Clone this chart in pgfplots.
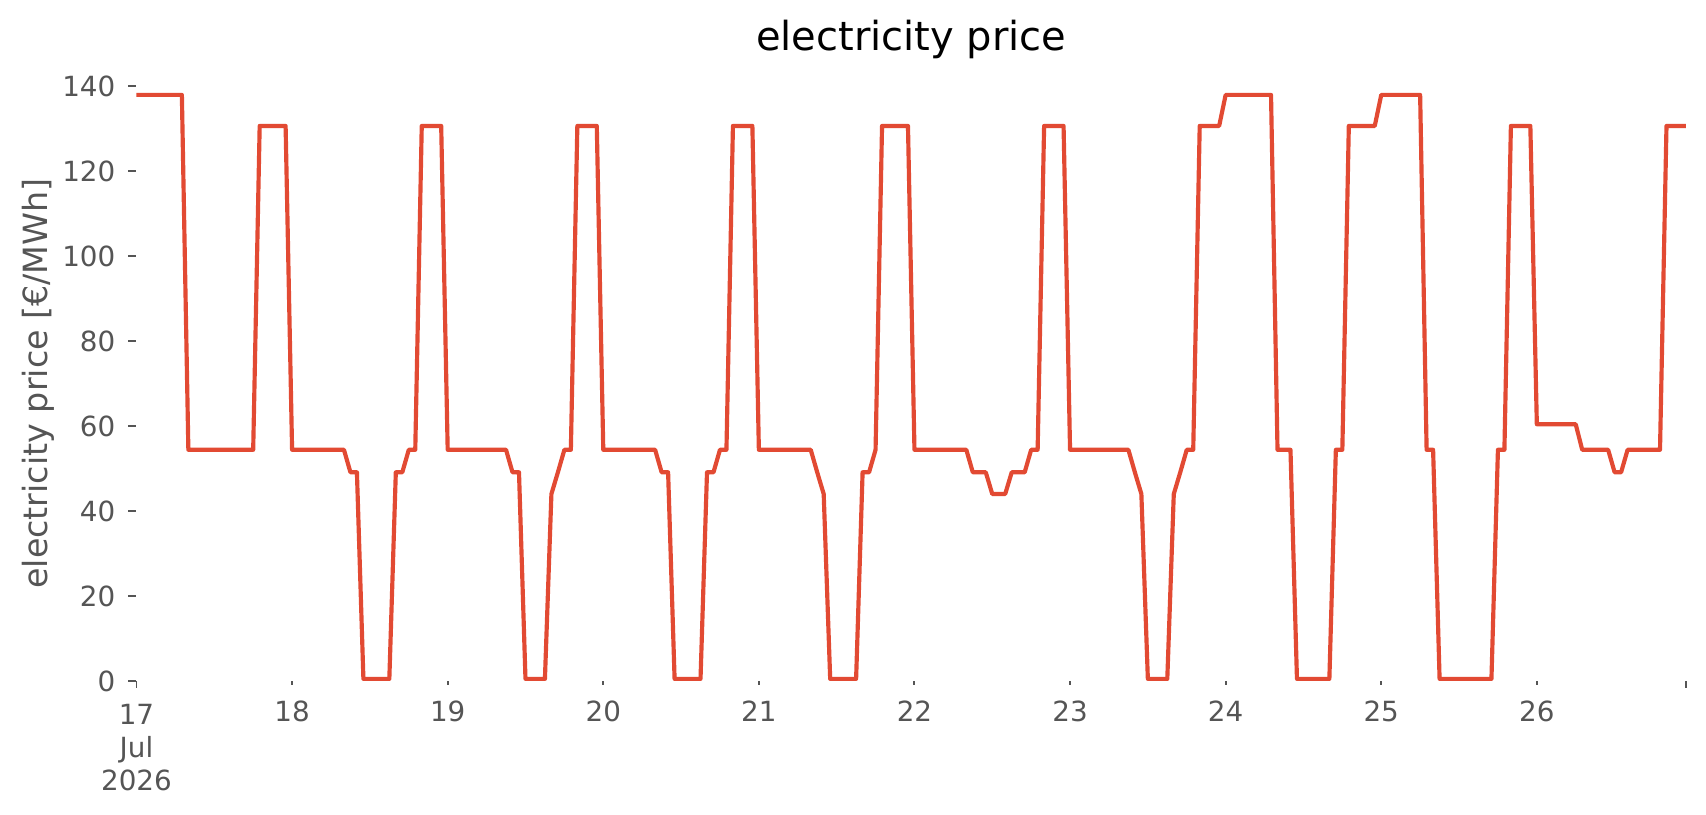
\documentclass[border=0pt]{standalone}
\usepackage{fontspec}
\setmainfont{DejaVu Sans}
\usepackage{pgfplots}
\usepackage{pgfplotstable}
\pgfplotsset{compat=1.18}
\definecolor{linecol}{HTML}{E24A33}
\definecolor{txtgray}{HTML}{555555}

\pgfplotstableread{
h p
0 137.9
1 137.9
2 137.9
3 137.9
4 137.9
5 137.9
6 137.9
7 137.9
8 54.4
9 54.4
10 54.4
11 54.4
12 54.4
13 54.4
14 54.4
15 54.4
16 54.4
17 54.4
18 54.4
19 130.6
20 130.6
21 130.6
22 130.6
23 130.6
24 54.4
25 54.4
26 54.4
27 54.4
28 54.4
29 54.4
30 54.4
31 54.4
32 54.4
33 49.1
34 49.1
35 0.5
36 0.5
37 0.5
38 0.5
39 0.5
40 49.1
41 49.1
42 54.4
43 54.4
44 130.6
45 130.6
46 130.6
47 130.6
48 54.4
49 54.4
50 54.4
51 54.4
52 54.4
53 54.4
54 54.4
55 54.4
56 54.4
57 54.4
58 49.1
59 49.1
60 0.5
61 0.5
62 0.5
63 0.5
64 44.0
65 49.1
66 54.4
67 54.4
68 130.6
69 130.6
70 130.6
71 130.6
72 54.4
73 54.4
74 54.4
75 54.4
76 54.4
77 54.4
78 54.4
79 54.4
80 54.4
81 49.1
82 49.1
83 0.5
84 0.5
85 0.5
86 0.5
87 0.5
88 49.1
89 49.1
90 54.4
91 54.4
92 130.6
93 130.6
94 130.6
95 130.6
96 54.4
97 54.4
98 54.4
99 54.4
100 54.4
101 54.4
102 54.4
103 54.4
104 54.4
105 49.1
106 44.0
107 0.5
108 0.5
109 0.5
110 0.5
111 0.5
112 49.1
113 49.1
114 54.4
115 130.6
116 130.6
117 130.6
118 130.6
119 130.6
120 54.4
121 54.4
122 54.4
123 54.4
124 54.4
125 54.4
126 54.4
127 54.4
128 54.4
129 49.1
130 49.1
131 49.1
132 44.0
133 44.0
134 44.0
135 49.1
136 49.1
137 49.1
138 54.4
139 54.4
140 130.6
141 130.6
142 130.6
143 130.6
144 54.4
145 54.4
146 54.4
147 54.4
148 54.4
149 54.4
150 54.4
151 54.4
152 54.4
153 54.4
154 49.1
155 44.0
156 0.5
157 0.5
158 0.5
159 0.5
160 44.0
161 49.1
162 54.4
163 54.4
164 130.6
165 130.6
166 130.6
167 130.6
168 137.9
169 137.9
170 137.9
171 137.9
172 137.9
173 137.9
174 137.9
175 137.9
176 54.4
177 54.4
178 54.4
179 0.5
180 0.5
181 0.5
182 0.5
183 0.5
184 0.5
185 54.4
186 54.4
187 130.6
188 130.6
189 130.6
190 130.6
191 130.6
192 137.9
193 137.9
194 137.9
195 137.9
196 137.9
197 137.9
198 137.9
199 54.4
200 54.4
201 0.5
202 0.5
203 0.5
204 0.5
205 0.5
206 0.5
207 0.5
208 0.5
209 0.5
210 54.4
211 54.4
212 130.6
213 130.6
214 130.6
215 130.6
216 60.4
217 60.4
218 60.4
219 60.4
220 60.4
221 60.4
222 60.4
223 54.4
224 54.4
225 54.4
226 54.4
227 54.4
228 49.1
229 49.1
230 54.4
231 54.4
232 54.4
233 54.4
234 54.4
235 54.4
236 130.6
237 130.6
238 130.6
239 130.6
}\price

\begin{document}
\begin{tikzpicture}
\useasboundingbox (-49.14pt,-48.24pt) rectangle (565.02pt,245.16pt);
\begin{axis}[
  at={(0,0)}, anchor=south west, scale only axis,
  width=557.8pt, height=214.2pt,
  xmin=0, xmax=239, ymin=0, ymax=140,
  axis line style={draw=none},
  clip=false,
  tick align=outside,
  tick pos=left,
  major tick length=1.3pt,
  tick style={txtgray, line width=0.7pt},
  /pgf/number format/assume math mode=true,
  tick label style={font=\fontsize{10}{11.9}\selectfont, text=txtgray},
  xtick={24,48,72,96,120,144,168,192,216},
  xticklabels={18,19,20,21,22,23,24,25,26},
  xticklabel style={yshift=-2.2pt, align=center},
  extra x ticks={0,239},
  extra x tick labels={{17\\Jul\\2026},{}},
  extra x tick style={major tick length=2.5pt, tick style={txtgray, line width=0.7pt}},
  ytick=\empty,
  extra y ticks={0,20,40,60,80,100,120,140},
  extra y tick style={major tick length=2.9pt, tick style={txtgray, line width=0.7pt}},
  yticklabel style={xshift=-1.2pt},
  title={electricity price},
  title style={at={(axis description cs:0.5,1)}, anchor=center, yshift=10.6pt, font=\fontsize{14.4}{17}\selectfont, text=black},
  ylabel={electricity price [€/MWh]},
  every axis y label/.style={at={(axis description cs:-0.0636,0.5)}, rotate=90, anchor=center, font=\fontsize{12}{14}\selectfont, text=txtgray},
]
\addplot[linecol, line width=1.5pt, line join=round, no marks] table[x=h, y=p] {\price};
\end{axis}
\end{tikzpicture}
\end{document}
